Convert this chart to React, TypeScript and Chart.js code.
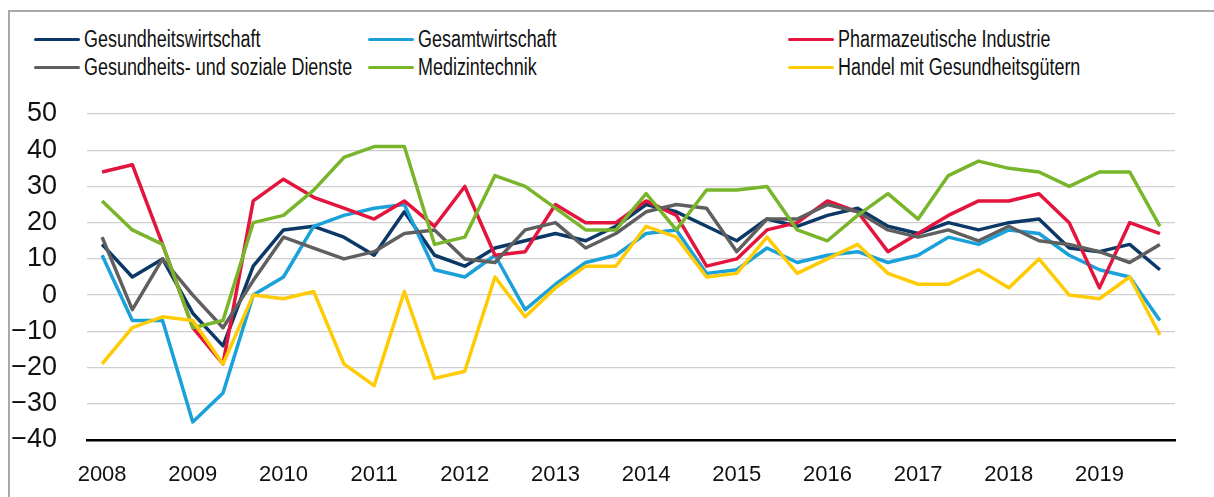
import React, { useEffect, useRef } from "react";
import { Chart, registerables } from "chart.js";

Chart.register(...registerables);

const periods = [
  "2008 T1", "2008 T2", "2008 T3",
  "2009 T1", "2009 T2", "2009 T3",
  "2010 T1", "2010 T2", "2010 T3",
  "2011 T1", "2011 T2", "2011 T3",
  "2012 T1", "2012 T2", "2012 T3",
  "2013 T1", "2013 T2", "2013 T3",
  "2014 T1", "2014 T2", "2014 T3",
  "2015 T1", "2015 T2", "2015 T3",
  "2016 T1", "2016 T2", "2016 T3",
  "2017 T1", "2017 T2", "2017 T3",
  "2018 T1", "2018 T2", "2018 T3",
  "2019 T1", "2019 T2", "2019 T3",
];

const gesundheitswirtschaft = [14, 5, 10, -5, -14, 8, 18, 19, 16, 11, 23, 11, 8, 13, 15, 17, 15, 19, 25, 23, 19, 15, 21, 19, 22, 24, 19, 17, 20, 18, 20, 21, 13, 12, 14, 7];
const gesamtwirtschaft = [11, -7, -7, -35, -27, 0, 5, 19, 22, 24, 25, 7, 5, 11, -4, 3, 9, 11, 17, 18, 6, 7, 13, 9, 11, 12, 9, 11, 16, 14, 18, 17, 11, 7, 5, -7];
const pharma = [34, 36, 14, -9, -19, 26, 32, 27, 24, 21, 26, 19, 30, 11, 12, 25, 20, 20, 26, 22, 8, 10, 18, 20, 26, 23, 12, 17, 22, 26, 26, 28, 20, 2, 20, 17];
const sozialeDienste = [16, -4, 10, 0, -9, 4, 16, 13, 10, 12, 17, 18, 10, 9, 18, 20, 13, 17, 23, 25, 24, 12, 21, 21, 25, 23, 18, 16, 18, 15, 19, 15, 14, 12, 9, 14];
const medizintechnik = [26, 18, 14, -9, -7, 20, 22, 29, 38, 41, 41, 14, 16, 33, 30, 24, 18, 18, 28, 18, 29, 29, 30, 18, 15, 22, 28, 21, 33, 37, 35, 34, 30, 34, 34, 19];
const handel = [-19, -9, -6, -7, -19, 0, -1, 1, -19, -25, 1, -23, -21, 5, -6, 2, 8, 8, 19, 16, 5, 6, 16, 6, 10, 14, 6, 3, 3, 7, 2, 10, 0, -1, 5, -11];

const yMin = -40;
const yMax = 50;
const yStep = 10;

const series = [
  { label: "Gesundheitswirtschaft", data: gesundheitswirtschaft, color: "#0b3866" },
  { label: "Gesamtwirtschaft", data: gesamtwirtschaft, color: "#1ba1d9" },
  { label: "Pharmazeutische Industrie", data: pharma, color: "#e3143d" },
  { label: "Gesundheits- und soziale Dienste", data: sozialeDienste, color: "#5f5f60" },
  { label: "Medizintechnik", data: medizintechnik, color: "#78b52b" },
  { label: "Handel mit Gesundheitsgütern", data: handel, color: "#ffcb05" },
];

const legendCols = [34, 368, 788];
const legendRows = [39, 67];

export default function App() {
  const canvasRef = useRef<HTMLCanvasElement | null>(null);

  useEffect(() => {
    const canvas = canvasRef.current;
    if (!canvas) return;
    const n = series.length;
    const chart = new Chart(canvas, {
      type: "line",
      data: {
        labels: periods,
        datasets: series.map((s, i) => ({
          label: s.label,
          data: s.data,
          borderColor: s.color,
          backgroundColor: s.color,
          borderWidth: 3.5,
          pointRadius: 0,
          tension: 0,
          fill: false,
          borderJoinStyle: "round" as const,
          order: n - i,
        })),
      },
      options: {
        animation: false,
        responsive: false,
        maintainAspectRatio: false,
        layout: { padding: { left: 0, right: 39, top: 114, bottom: 0 } },
        plugins: {
          legend: { display: false },
          tooltip: { enabled: false },
        },
        scales: {
          x: {
            offset: true,
            grid: { display: false, drawTicks: false },
            border: { display: true, color: "#000000", width: 2.5 },
            ticks: {
              autoSkip: false,
              maxRotation: 0,
              padding: 22,
              color: "#111111",
              font: { family: "'Liberation Sans', Arial, sans-serif", size: 22 },
              callback: (_v: any, idx: number) => (idx % 3 === 0 ? periods[idx].slice(0, 4) : ""),
            },
            afterFit: (scale: any) => {
              scale.height = 57;
            },
          },
          y: {
            min: yMin,
            max: yMax,
            border: { display: false },
            grid: {
              drawTicks: false,
              color: (ctx: any) => (ctx.tick && ctx.tick.value === yMin ? "rgba(0,0,0,0)" : "#cfcfcf"),
              lineWidth: 1.3,
            },
            ticks: {
              stepSize: yStep,
              padding: 30,
              color: "#111111",
              font: { family: "'Liberation Sans', Arial, sans-serif", size: 27 },
              callback: (v: any) => (Number(v) < 0 ? "\u2212" + Math.abs(Number(v)) : String(v)),
            },
            afterFit: (scale: any) => {
              scale.width = 87;
            },
          },
        },
      },
    });
    return () => chart.destroy();
  }, []);

  const legendFont = "'Liberation Sans', Arial, sans-serif";

  return (
    <div style={{ position: "absolute", left: 0, top: 0, width: 1214, height: 497, overflow: "hidden", background: "#ffffff" }}>
      <div
        style={{
          position: "absolute",
          left: 8,
          top: 10,
          width: 1400,
          height: 700,
          border: "2px solid #a9a9a9",
          boxSizing: "border-box",
        }}
      />
      {series.map((s, i) => {
        const col = legendCols[i % 3];
        const row = legendRows[Math.floor(i / 3)];
        return (
          <div key={s.label}>
            <div
              style={{
                position: "absolute",
                left: col,
                top: row - 1.5,
                width: 46,
                height: 3.2,
                background: s.color,
                borderRadius: 1.5,
              }}
            />
            <div
              style={{
                position: "absolute",
                left: col + 50,
                top: row - 15,
                height: 30,
                lineHeight: "30px",
                fontFamily: legendFont,
                fontSize: 23,
                color: "#111111",
                whiteSpace: "nowrap",
                transform: "scaleX(0.78)",
                transformOrigin: "0 50%",
              }}
            >
              {s.label}
            </div>
          </div>
        );
      })}
      <canvas
        ref={canvasRef}
        width={1214}
        height={497}
        style={{ position: "absolute", left: 0, top: 0, width: 1214, height: 497 }}
      />
    </div>
  );
}
